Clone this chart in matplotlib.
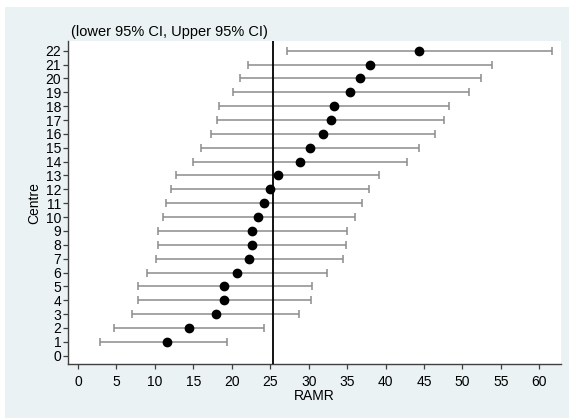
import matplotlib
matplotlib.use("Agg")
import matplotlib.pyplot as plt
import matplotlib.patches as mpatches

plt.rcParams["font.family"] = ["Liberation Sans", "DejaVu Sans"]

BG = "#eaf2f3"
GREY = "#8c8c8c"
AXC = "#404040"

centre = list(range(1, 23))
ramr = [11.6, 14.4, 17.9, 19.0, 19.0, 20.7, 22.2, 22.6, 22.6, 23.4, 24.2,
        25.0, 26.0, 28.9, 30.2, 31.9, 32.9, 33.3, 35.4, 36.7, 38.0, 44.4]
lower = [2.9, 4.7, 7.0, 7.8, 7.8, 9.0, 10.1, 10.4, 10.4, 11.0, 11.5,
         12.1, 12.8, 15.0, 16.0, 17.3, 18.1, 18.4, 20.1, 21.1, 22.1, 27.2]
upper = [19.4, 24.2, 28.7, 30.3, 30.4, 32.4, 34.5, 34.9, 35.0, 36.0, 37.0,
         37.9, 39.2, 42.8, 44.4, 46.4, 47.6, 48.2, 50.8, 52.4, 53.9, 61.7]
ref_line = 25.3

fig = plt.figure(figsize=(5.69, 4.18), dpi=100, facecolor="white")
fig.patches.append(mpatches.Rectangle((5 / 569, 0), 1, (418 - 7) / 418,
                                      transform=fig.transFigure,
                                      facecolor=BG, edgecolor="none", zorder=-10))

ax = fig.add_axes([0.120, 0.1285, 0.866, 0.7734])
ax.set_zorder(1)
ax.set_facecolor("white")

err_lo = [r - l for r, l in zip(ramr, lower)]
err_hi = [u - r for r, u in zip(ramr, upper)]
ax.errorbar(ramr, centre, xerr=[err_lo, err_hi], fmt="none", ecolor=GREY,
            elinewidth=1.1, capsize=2.9, capthick=1.1, zorder=2)
ax.plot(ramr, centre, "o", color="black", markersize=6.0, zorder=4)
ax.axvline(ref_line, color="black", linewidth=1.3, zorder=3)

ax.set_xlim(-1.27, 62.83)
ax.set_ylim(-0.62, 22.70)
ax.set_xticks(range(0, 61, 5))
ax.set_yticks(range(0, 23))

for s in ["top", "right"]:
    ax.spines[s].set_visible(False)
for s in ["left", "bottom"]:
    ax.spines[s].set_color(AXC)
    ax.spines[s].set_linewidth(1.0)

ax.tick_params(axis="x", direction="out", length=3.6, width=0.9, color=AXC,
               labelsize=10, pad=4)
ax.tick_params(axis="y", direction="out", length=3.6, width=0.9, color=AXC,
               labelsize=10, pad=1.5)

ax.set_xlabel("RAMR", fontsize=10, labelpad=0)
ax.set_ylabel("Centre", fontsize=10, labelpad=3)

fig.text(71 / 569, (418 - 32) / 418, "(lower 95% CI, Upper 95% CI)",
         fontsize=10.5, ha="left", va="center")

fig.savefig("out.png", dpi=100, facecolor="white")
